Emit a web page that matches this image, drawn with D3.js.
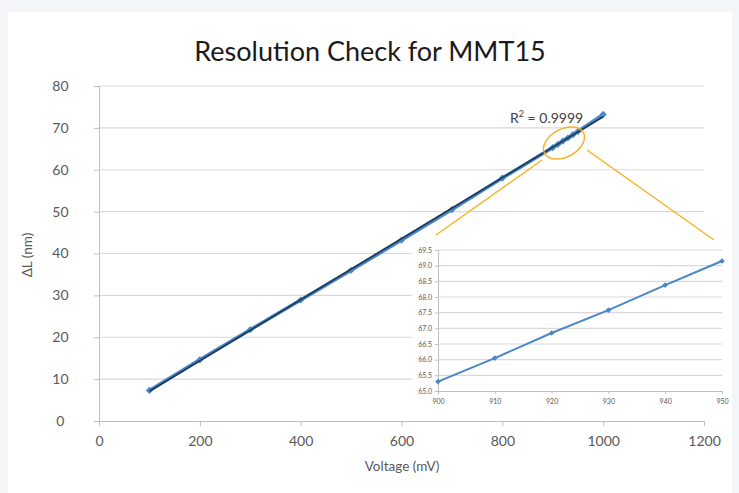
<!DOCTYPE html>
<html>
<head>
<meta charset="utf-8">
<script src="https://cdn.jsdelivr.net/npm/d3@7"></script>
<style>
  html, body { margin: 0; padding: 0; background: #f3f6f9; }
  svg { display: block; }
</style>
</head>
<body>
<div id="chart"></div>
<script>
(function () {
  'use strict';

  // --- Data ---
  var voltages = [100, 200, 300, 400, 500, 600, 700, 800, 900, 910, 920, 930, 940, 950, 1000];
  var deltaL   = [7.3, 14.6, 21.8, 28.9, 36.0, 43.2, 50.5, 58.0, 65.3, 66.05, 66.85, 67.58, 68.38, 69.15, 73.2];
  var insetVoltages = [900, 910, 920, 930, 940, 950];
  var insetDeltaL   = [65.3, 66.05, 66.85, 67.58, 68.38, 69.15];
  var xTicks = [0, 200, 400, 600, 800, 1000, 1200];
  var yTicks = [0, 10, 20, 30, 40, 50, 60, 70, 80];
  var insetXTicks = [900, 910, 920, 930, 940, 950];
  var insetYTicks = [65.0, 65.5, 66.0, 66.5, 67.0, 67.5, 68.0, 68.5, 69.0, 69.5];
  var rSquared = '0.9999';

  var W = 739, H = 493;
  var font = 'Lato, "Open Sans", sans-serif';
  var c = {
    grid: '#d9d9d9',
    axis: '#bfbfbf',
    text: '#595959',
    series: '#4a86c8',
    trend: '#1f3b5a',
    zoom: '#f5b324'
  };

  var svg = d3.select('#chart').append('svg')
    .attr('width', W).attr('height', H);

  // White chart card
  svg.append('rect')
    .attr('x', 8).attr('y', 12).attr('width', 724).attr('height', H - 12)
    .attr('fill', '#fff');

  // Title
  svg.append('text')
    .attr('x', 370).attr('y', 61)
    .attr('text-anchor', 'middle')
    .attr('font-family', font).attr('font-size', 27)
    .attr('fill', '#1a1a1a')
    .text('Resolution Check for MMT15');

  // --- Main scales ---
  var x = d3.scaleLinear().domain([0, 1200]).range([99, 704]);
  var y = d3.scaleLinear().domain([0, 80]).range([421, 86]);

  // Gridlines
  svg.append('g').selectAll('line')
    .data(yTicks.filter(function (t) { return t > 0; }))
    .join('line')
    .attr('x1', x(0)).attr('x2', x(1200))
    .attr('y1', function (d) { return y(d); })
    .attr('y2', function (d) { return y(d); })
    .attr('stroke', c.grid).attr('stroke-width', 1.2);

  // Y axis
  var yAxis = svg.append('g')
    .attr('transform', 'translate(' + x(0) + ',0)')
    .call(d3.axisLeft(y).tickValues(yTicks).tickSize(5).tickPadding(28).tickFormat(d3.format('d')));
  yAxis.select('.domain').attr('stroke', c.axis);
  yAxis.selectAll('.tick line').attr('stroke', c.axis);
  yAxis.selectAll('text')
    .attr('font-family', font).attr('font-size', 14).attr('fill', c.text)
    .attr('text-anchor', 'middle').attr('dx', '-0.4em');

  // X axis
  var xAxis = svg.append('g')
    .attr('transform', 'translate(0,' + y(0) + ')')
    .call(d3.axisBottom(x).tickValues(xTicks).tickSize(5).tickPadding(10).tickFormat(d3.format('d')));
  xAxis.select('.domain').attr('stroke', c.axis);
  xAxis.selectAll('.tick line').attr('stroke', c.axis);
  xAxis.selectAll('text')
    .attr('font-family', font).attr('font-size', 14).attr('fill', c.text);

  // Axis titles
  svg.append('text')
    .attr('x', 402).attr('y', 471)
    .attr('text-anchor', 'middle')
    .attr('font-family', font).attr('font-size', 13.5).attr('fill', c.text)
    .text('Voltage (mV)');
  svg.append('text')
    .attr('transform', 'translate(32,255) rotate(-90)')
    .attr('text-anchor', 'middle')
    .attr('font-family', font).attr('font-size', 13.5).attr('fill', c.text)
    .text('\u0394L (nm)');

  // --- Series ---
  var pts = voltages.map(function (v, i) { return [v, deltaL[i]]; });
  var line = d3.line()
    .x(function (d) { return x(d[0]); })
    .y(function (d) { return y(d[1]); });

  svg.append('path')
    .datum(pts)
    .attr('d', line)
    .attr('fill', 'none')
    .attr('stroke', c.series).attr('stroke-width', 3.5);

  var marker = d3.symbol().type(d3.symbolSquare).size(26);
  svg.append('g').selectAll('path')
    .data(pts)
    .join('path')
    .attr('d', marker)
    .attr('transform', function (d) { return 'translate(' + x(d[0]) + ',' + y(d[1]) + ') rotate(45)'; })
    .attr('fill', c.series);

  // Linear trendline (least squares)
  var mx = d3.mean(voltages), my = d3.mean(deltaL);
  var sxy = d3.sum(pts, function (d) { return (d[0] - mx) * (d[1] - my); });
  var sxx = d3.sum(voltages, function (v) { return (v - mx) * (v - mx); });
  var slope = sxy / sxx, icept = my - slope * mx;
  var xr = d3.extent(voltages);
  svg.append('line')
    .attr('x1', x(xr[0])).attr('y1', y(icept + slope * xr[0]))
    .attr('x2', x(xr[1])).attr('y2', y(icept + slope * xr[1]))
    .attr('stroke', c.trend).attr('stroke-width', 1.8);

  // R² label
  var rl = svg.append('text')
    .attr('x', 510).attr('y', 123)
    .attr('font-family', font).attr('font-size', 14).attr('fill', '#404040');
  rl.append('tspan').text('R');
  rl.append('tspan').attr('dy', -6).attr('font-size', 9).text('2');
  rl.append('tspan').attr('dy', 6).text(' = ' + rSquared);

  // --- Zoom callout ---
  svg.append('ellipse')
    .attr('cx', 564).attr('cy', 143)
    .attr('rx', 22).attr('ry', 14)
    .attr('transform', 'rotate(-28,564,143)')
    .attr('fill', 'none').attr('stroke', c.zoom).attr('stroke-width', 1.5);
  svg.append('line')
    .attr('x1', 542).attr('y1', 160).attr('x2', 436).attr('y2', 235)
    .attr('stroke', c.zoom).attr('stroke-width', 1.5);
  svg.append('line')
    .attr('x1', 587).attr('y1', 150).attr('x2', 714).attr('y2', 240)
    .attr('stroke', c.zoom).attr('stroke-width', 1.5);

  // --- Inset ---
  svg.append('rect')
    .attr('x', 412).attr('y', 241).attr('width', 320).attr('height', 172)
    .attr('fill', '#fff');

  var xi = d3.scaleLinear().domain([900, 950]).range([438, 722]);
  var yi = d3.scaleLinear().domain([65, 69.5]).range([391, 250]);

  svg.append('g').selectAll('line')
    .data(insetYTicks.filter(function (t) { return t > 65; }))
    .join('line')
    .attr('x1', xi(900)).attr('x2', xi(950))
    .attr('y1', function (d) { return yi(d); })
    .attr('y2', function (d) { return yi(d); })
    .attr('stroke', c.grid).attr('stroke-width', 1.2);

  var yiAxis = svg.append('g')
    .attr('transform', 'translate(' + xi(900) + ',0)')
    .call(d3.axisLeft(yi).tickValues(insetYTicks).tickSize(3).tickPadding(3).tickFormat(d3.format('.1f')));
  yiAxis.select('.domain').attr('stroke', c.axis);
  yiAxis.selectAll('.tick line').attr('stroke', c.axis);
  yiAxis.selectAll('text')
    .attr('font-family', font).attr('font-size', 7).attr('fill', c.text);

  var xiAxis = svg.append('g')
    .attr('transform', 'translate(0,' + yi(65) + ')')
    .call(d3.axisBottom(xi).tickValues(insetXTicks).tickSize(3).tickPadding(5).tickFormat(d3.format('d')));
  xiAxis.select('.domain').attr('stroke', c.axis);
  xiAxis.selectAll('.tick line').attr('stroke', c.axis);
  xiAxis.selectAll('text')
    .attr('font-family', font).attr('font-size', 7).attr('fill', c.text);

  var ipts = insetVoltages.map(function (v, i) { return [v, insetDeltaL[i]]; });
  svg.append('path')
    .datum(ipts)
    .attr('d', d3.line()
      .x(function (d) { return xi(d[0]); })
      .y(function (d) { return yi(d[1]); }))
    .attr('fill', 'none')
    .attr('stroke', c.series).attr('stroke-width', 2);
  svg.append('g').selectAll('path')
    .data(ipts)
    .join('path')
    .attr('d', d3.symbol().type(d3.symbolSquare).size(16))
    .attr('transform', function (d) { return 'translate(' + xi(d[0]) + ',' + yi(d[1]) + ') rotate(45)'; })
    .attr('fill', c.series);
})();
</script>
</body>
</html>
